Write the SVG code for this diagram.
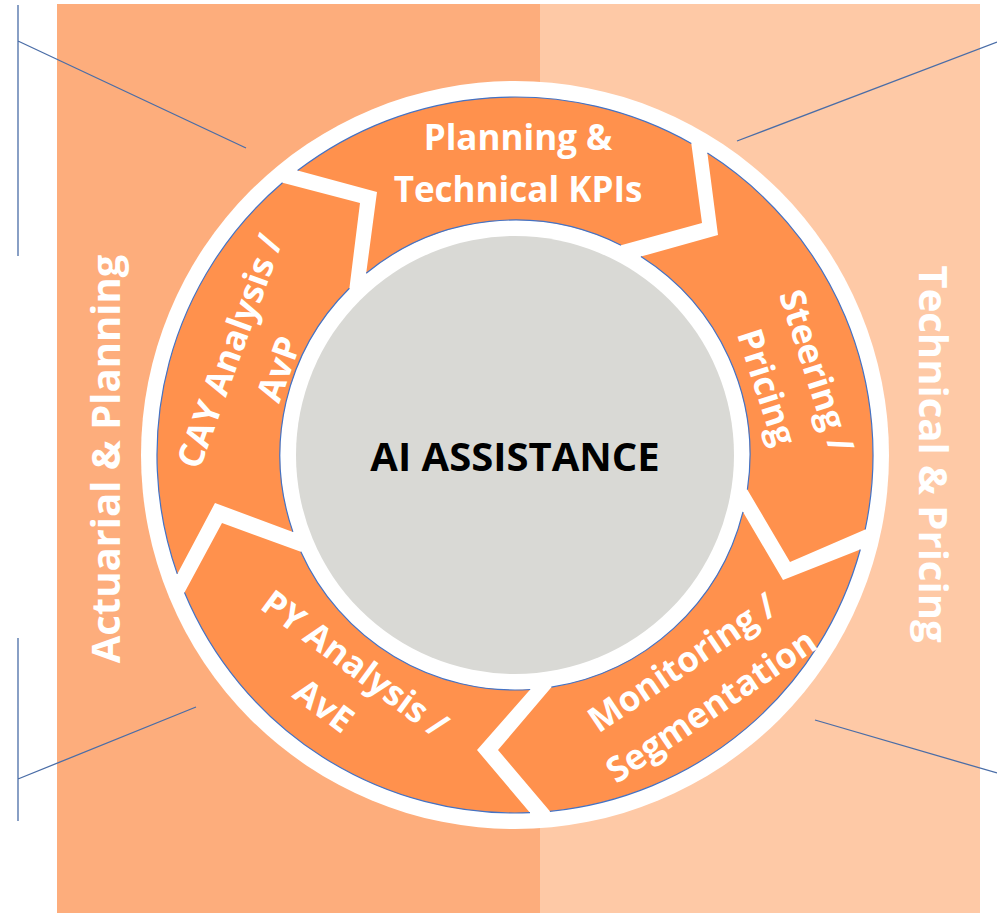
<svg xmlns="http://www.w3.org/2000/svg" width="997" height="913" viewBox="0 0 997 913">
  <style>
    .seg { fill: #FF914D; }
    .rim { fill: none; stroke: #4472C4; stroke-width: 1.2; }
    .lbl { font-family: "Open Sans", "Liberation Sans", sans-serif; font-weight: 700; font-size: 35px; fill: #FFFFFF; text-anchor: middle; }
    .side { font-size: 40px; }
    .core { fill: #000000; font-size: 40px; }
    .ln { fill: none; stroke: #4A6DA7; stroke-width: 1.3; }
  </style>

  <!-- two background panels -->
  <rect x="57" y="4" width="483" height="909" fill="#FDAD7C"/>
  <rect x="540" y="4" width="440" height="909" fill="#FEC9A6"/>

  <!-- connectors: callout lines -->
  <g id="connectors">
    <path class="ln" d="M18 5 V256 M18 41 L246 148"/>
    <path class="ln" d="M737 141 L997 42"/>
    <path class="ln" d="M18 638 V821 M18 779 L196 707"/>
    <path class="ln" d="M815 720 L997 773"/>
  </g>

  <!-- white disc behind the cycle -->
  <circle cx="515" cy="455" r="374" fill="#FFFFFF"/>

  <g id="planning">
    <path class="seg" d="M297.6 170.6 A358 358 0 0 1 691.3 143.4 L702 223 L621 245.2 A235 235 0 0 0 366.2 273.2 L377 192 Z"/>
    <path class="rim" d="M297.6 170.6 A358 358 0 0 1 691.3 143.4 M621 245.2 A235 235 0 0 0 366.2 273.2"/>
    <g transform="translate(518,163.5)">
      <text class="lbl" y="-13.5">Planning &amp;</text>
      <text class="lbl" y="38.5">Technical KPIs</text>
    </g>
  </g>

  <g id="steering">
    <path class="seg" d="M707.4 153.1 A358 358 0 0 1 865.2 529.4 L790 562 L747.4 489.7 A235 235 0 0 0 640.9 256.6 L718 235 Z"/>
    <path class="rim" d="M707.4 153.1 A358 358 0 0 1 865.2 529.4 M747.4 489.7 A235 235 0 0 0 640.9 256.6"/>
    <g transform="translate(792,379) rotate(72)">
      <text class="lbl" y="-13.5">Steering /</text>
      <text class="lbl" y="38.5">Pricing</text>
    </g>
  </g>

  <g id="monitoring">
    <path class="seg" d="M860.3 549.5 A358 358 0 0 1 549.9 811.3 L498 750 L551.4 687.2 A235 235 0 0 0 743 511.9 L783 580 Z"/>
    <path class="rim" d="M860.3 549.5 A358 358 0 0 1 549.9 811.3 M551.4 687.2 A235 235 0 0 0 743 511.9"/>
    <g transform="translate(696.5,684) rotate(-34)">
      <text class="lbl" y="-13.5">Monitoring /</text>
      <text class="lbl" y="38.5">Segmentation</text>
    </g>
  </g>

  <g id="py-analysis">
    <path class="seg" d="M530 812.7 A358 358 0 0 1 184.5 592.6 L222 523 L300.8 551.7 A235 235 0 0 0 530.2 689.5 L477 750 Z"/>
    <path class="rim" d="M530 812.7 A358 358 0 0 1 184.5 592.6 M300.8 551.7 A235 235 0 0 0 530.2 689.5"/>
    <g transform="translate(339.5,684.5) rotate(36.5)">
      <text class="lbl" y="-13.5">PY Analysis /</text>
      <text class="lbl" y="38.5">AvE</text>
    </g>
  </g>

  <g id="cay-analysis">
    <path class="seg" d="M177.3 573.9 A358 358 0 0 1 282.5 182.8 L360 203 L349.4 288.2 A235 235 0 0 0 292.9 531.9 L215 503 Z"/>
    <path class="rim" d="M177.3 573.9 A358 358 0 0 1 282.5 182.8 M349.4 288.2 A235 235 0 0 0 292.9 531.9"/>
    <g transform="translate(254,360) rotate(-70)">
      <text class="lbl" y="-13.5">CAY Analysis /</text>
      <text class="lbl" y="38.5">AvP</text>
    </g>
  </g>

  <g id="ai-assistance">
    <circle cx="515" cy="455" r="219" fill="#D9D9D5"/>
    <text class="lbl core" x="515" y="471">AI ASSISTANCE</text>
  </g>

  <g id="actuarial-planning">
    <text class="lbl side" transform="translate(120,459) rotate(-90)">Actuarial &amp; Planning</text>
  </g>

  <g id="technical-pricing">
    <text class="lbl side" transform="translate(919,454) rotate(90)">Technical &amp; Pricing</text>
  </g>
</svg>
